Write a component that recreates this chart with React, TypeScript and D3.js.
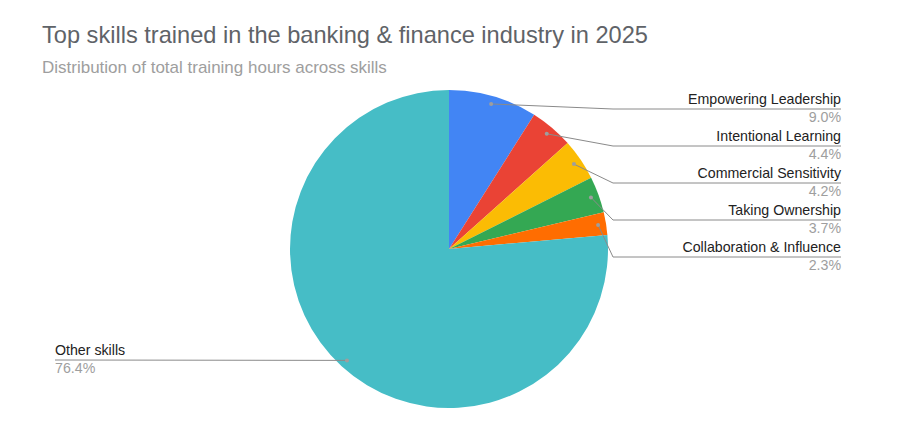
import React from "react";
import * as d3 from "d3";

const categories = [
  "Empowering Leadership",
  "Intentional Learning",
  "Commercial Sensitivity",
  "Taking Ownership",
  "Collaboration & Influence",
  "Other skills",
];
const values = [9.0, 4.4, 4.2, 3.7, 2.3, 76.4];
const colors = ["#4285F4", "#EA4335", "#FBBC04", "#34A853", "#FF6D01", "#46BDC6"];

const W = 900;
const H = 437;
const cx = 449;
const cy = 249;
const R = 159;

export default function App() {
  const pie = d3.pie<number>().sort(null).value((d) => d)(values);
  const arc = d3.arc<d3.PieArcDatum<number>>().innerRadius(0).outerRadius(R);
  const dotArc = d3.arc<d3.PieArcDatum<number>>().innerRadius(R * 0.95).outerRadius(R * 0.95);
  const labelY = d3.scaleLinear().domain([0, 1]).range([104, 141]);
  const rightX = 841;
  const elbowX = 613;

  return (
    <div style={{ margin: -8 }}>
      <svg width={W} height={H} style={{ display: "block", background: "#fff", fontFamily: "'Liberation Sans', Arial, sans-serif" }}>
        <text x={42} y={43} fontSize={23.6} fill="#5f6368">
          Top skills trained in the banking &amp; finance industry in 2025
        </text>
        <text x={42} y={73} fontSize={17} fill="#9e9e9e">
          Distribution of total training hours across skills
        </text>
        <g transform={`translate(${cx},${cy})`}>
          {pie.map((p, i) => (
            <path key={i} d={arc(p) || ""} fill={colors[i]} />
          ))}
        </g>
        {pie.map((p, i) => {
          const [dx, dy] = dotArc.centroid(p);
          const px = cx + dx;
          const py = cy + dy;
          if (i < 5) {
            const ty = labelY(i);
            const ly = ty + 5;
            return (
              <g key={i}>
                <polyline
                  points={`${px},${py} ${elbowX},${ly} ${rightX},${ly}`}
                  fill="none"
                  stroke="#8a8a8a"
                  strokeWidth={1}
                />
                <circle cx={px} cy={py} r={2} fill="#9e9e9e" />
                <text x={rightX} y={ty} textAnchor="end" fontSize={14.2} fill="#222">
                  {categories[i]}
                </text>
                <text x={rightX} y={ty + 18} textAnchor="end" fontSize={14.2} fill="#9e9e9e">
                  {values[i].toFixed(1)}%
                </text>
              </g>
            );
          }
          const ty = 355;
          const ly = ty + 5;
          return (
            <g key={i}>
              <polyline points={`${px},${py} ${55},${ly}`} fill="none" stroke="#8a8a8a" strokeWidth={1} />
              <circle cx={px} cy={py} r={2} fill="#9e9e9e" />
              <text x={55} y={ty} fontSize={14.2} fill="#222">
                {categories[i]}
              </text>
              <text x={55} y={ty + 18} fontSize={14.2} fill="#9e9e9e">
                {values[i].toFixed(1)}%
              </text>
            </g>
          );
        })}
      </svg>
    </div>
  );
}
